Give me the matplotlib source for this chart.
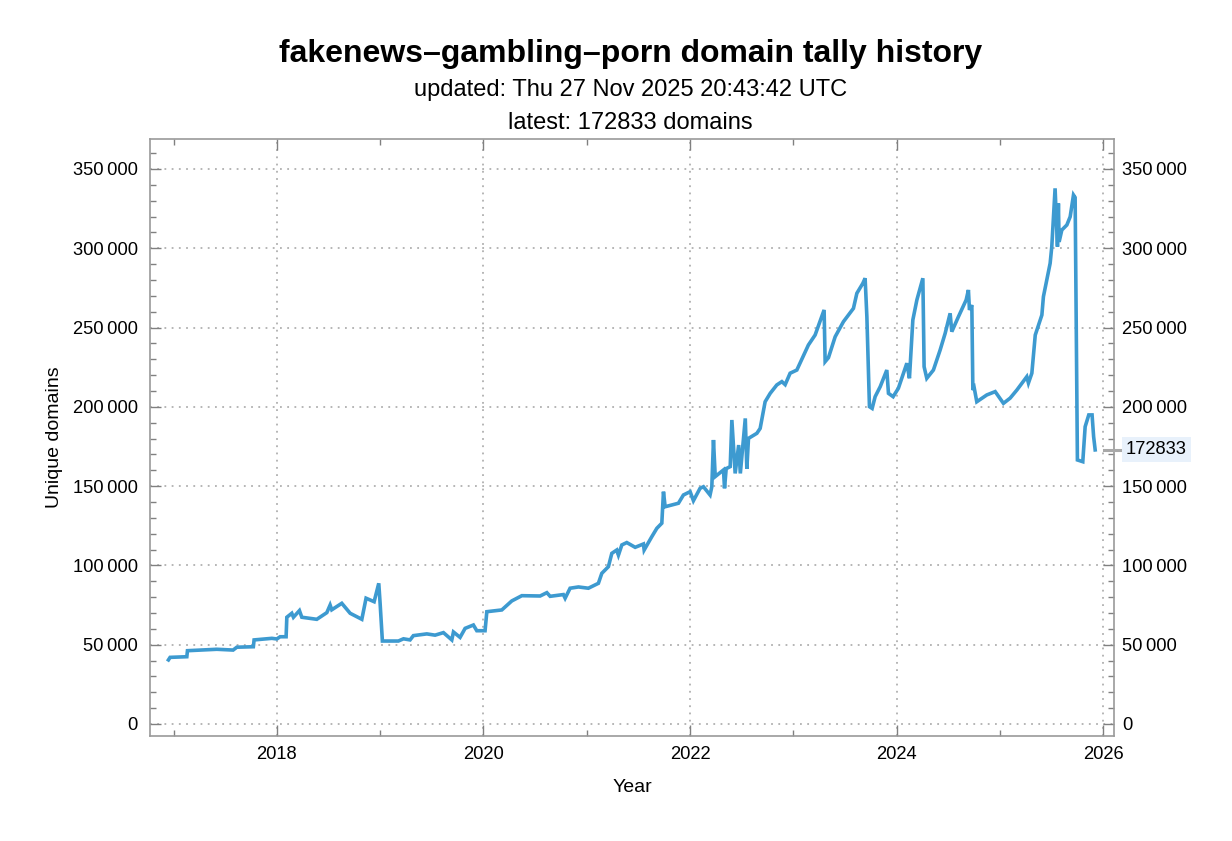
import numpy as np
import matplotlib
matplotlib.use("Agg")
from matplotlib import pyplot as plt
from matplotlib.ticker import MultipleLocator, FuncFormatter
import matplotlib.transforms as mtransforms

plt.rcParams['font.family'] = ['Liberation Sans', 'DejaVu Sans']

# decimal year, unique domains
years = [
    2016.951, 2016.967, 2017.129, 2017.135, 2017.419, 2017.577, 2017.613, 2017.773, 2017.780,
    2017.952, 2018.000, 2018.032, 2018.090, 2018.097, 2018.145, 2018.161, 2018.219, 2018.242,
    2018.387, 2018.484, 2018.516, 2018.532, 2018.629, 2018.710, 2018.823, 2018.864, 2018.942,
    2018.987, 2019.000, 2019.022, 2019.177, 2019.226, 2019.290, 2019.322, 2019.452, 2019.532,
    2019.613, 2019.694, 2019.710, 2019.774, 2019.823, 2019.903, 2019.936, 2020.016, 2020.033,
    2020.178, 2020.275, 2020.372, 2020.549, 2020.614, 2020.646, 2020.774, 2020.791, 2020.839,
    2020.920, 2021.016, 2021.113, 2021.146, 2021.210, 2021.243, 2021.291, 2021.307, 2021.340,
    2021.388, 2021.469, 2021.549, 2021.556, 2021.630, 2021.679, 2021.727, 2021.743, 2021.759,
    2021.888, 2021.936, 2022.001, 2022.033, 2022.097, 2022.130, 2022.194, 2022.211, 2022.227,
    2022.244, 2022.324, 2022.334, 2022.350, 2022.389, 2022.405, 2022.437, 2022.471, 2022.487,
    2022.535, 2022.550, 2022.566, 2022.647, 2022.679, 2022.727, 2022.776, 2022.840, 2022.889,
    2022.921, 2022.969, 2023.034, 2023.146, 2023.211, 2023.298, 2023.308, 2023.340, 2023.405,
    2023.485, 2023.582, 2023.615, 2023.673, 2023.695, 2023.712, 2023.737, 2023.763, 2023.792,
    2023.841, 2023.905, 2023.921, 2023.966, 2024.017, 2024.099, 2024.124, 2024.157, 2024.196,
    2024.254, 2024.266, 2024.292, 2024.356, 2024.421, 2024.470, 2024.518, 2024.534, 2024.598,
    2024.673, 2024.695, 2024.705, 2024.728, 2024.738, 2024.751, 2024.776, 2024.873, 2024.954,
    2025.034, 2025.099, 2025.164, 2025.260, 2025.276, 2025.309, 2025.342, 2025.406, 2025.421,
    2025.486, 2025.502, 2025.534, 2025.557, 2025.566, 2025.573, 2025.599, 2025.648, 2025.680,
    2025.712, 2025.728, 2025.750, 2025.802, 2025.825, 2025.860, 2025.892, 2025.907, 2025.922,
]
domains = [
    40400, 42000, 42400, 46200, 47100, 46600, 48400, 48700, 53000,
    54000, 53600, 55000, 55000, 67300, 69800, 67300, 71500, 67300,
    66000, 70200, 75000, 72000, 76100, 69800, 66000, 79300, 77100,
    88700, 76100, 52300, 52300, 53700, 53000, 55700, 56800, 56000,
    57600, 53000, 58000, 54600, 60300, 62400, 58800, 58800, 70800,
    71900, 77600, 80900, 80700, 82800, 80500, 81600, 79300, 85600,
    86400, 85600, 88700, 95000, 99200, 107600, 109700, 106500, 112900,
    114400, 111400, 113500, 109700, 118100, 123400, 126600, 146500, 137000,
    139200, 144400, 146500, 140800, 148600, 149600, 144400, 149600, 179100,
    156000, 160200, 148600, 161000, 162300, 191700, 158000, 175900, 158000,
    192700, 160900, 180100, 183300, 186400, 203200, 208500, 213800, 215900,
    214000, 221200, 223200, 239000, 245300, 261100, 228500, 231000, 244200,
    253700, 262100, 271600, 277900, 281100, 256800, 200100, 199000, 206400,
    212700, 223200, 208500, 206400, 211700, 227500, 218000, 254800, 267400,
    281100, 225300, 218000, 223200, 235800, 246400, 259000, 247400, 256800,
    267400, 273700, 261100, 264200, 210600, 212000, 203200, 207500, 209600,
    202200, 205500, 210600, 219000, 215000, 221200, 245300, 257900, 269500,
    290500, 301000, 337800, 301000, 328300, 304000, 311500, 314700, 319900,
    333600, 332000, 166500, 165400, 187500, 194900, 194900, 181200, 172833,
]

title = "fakenews\u2013gambling\u2013porn domain tally history"
updated = "updated: Thu 27 Nov 2025 20:43:42 UTC"
latest = domains[-1]


def thousands(v, pos=None):
    return f"{int(round(v)):,}".replace(",", "\u2009")


fig = plt.figure(figsize=(12.32, 8.41), dpi=100)
ax = fig.add_axes([0.1218, 0.1249, 0.7824, 0.7098])

ax.plot(years, domains, color='#3d9ad0', lw=2.6, solid_joinstyle='miter')

ax.set_xlim(2016.773, 2026.104)
ax.set_ylim(-7570, 368900)

ax.xaxis.set_major_locator(MultipleLocator(2))
ax.xaxis.set_minor_locator(MultipleLocator(1))
ax.yaxis.set_major_locator(MultipleLocator(50000))
ax.yaxis.set_minor_locator(MultipleLocator(10000))
ax.xaxis.set_major_formatter(FuncFormatter(lambda v, p: "%d" % round(v)))
ax.yaxis.set_major_formatter(FuncFormatter(thousands))

ax.grid(True, which='major', color='#b0b0b0', linestyle=(0, (1, 3)), linewidth=1.3)
ax.tick_params(which='both', direction='in', top=True, right=True,
               color='#808080', labelsize=13.2, labelcolor='black')
ax.tick_params(which='major', length=8, width=1)
ax.tick_params(which='minor', length=4.5, width=1)
ax.tick_params(axis='x', pad=7)
ax.tick_params(axis='y', pad=9)
for s in ax.spines.values():
    s.set_color('#9a9a9a')
    s.set_linewidth(1.2)

# right hand labels, with their own padding
sec = ax.secondary_yaxis('right')
sec.yaxis.set_major_locator(MultipleLocator(50000))
sec.yaxis.set_major_formatter(FuncFormatter(thousands))
sec.yaxis.set_minor_locator(MultipleLocator(10000))
sec.tick_params(which='both', length=0, labelsize=13.2, pad=6)
sec.spines['right'].set_visible(False)

ax.set_xlabel("Year", fontsize=14, labelpad=12)
ax.set_ylabel("Unique domains", fontsize=14, labelpad=7)

# latest value marker on the right edge
trans = mtransforms.blended_transform_factory(ax.transAxes, ax.transData)
ax.plot([0.9895, 1.008], [latest, latest], color='#a8a8a8', lw=2.2,
        transform=trans, clip_on=False, zorder=5)
ax.text(1.0125, latest, str(latest), transform=trans, ha='left', va='center',
        fontsize=13.2, zorder=6,
        bbox=dict(boxstyle='square,pad=0.22', fc='#e8f1fb', ec='none'))

fig.text(0.512, 0.936, title, ha='center', va='center', fontsize=23, fontweight='bold')
fig.text(0.512, 0.893, updated, ha='center', va='center', fontsize=17)
fig.text(0.512, 0.854, "latest: %d domains" % latest, ha='center', va='center', fontsize=17)

fig.savefig("out.png", dpi=100)
